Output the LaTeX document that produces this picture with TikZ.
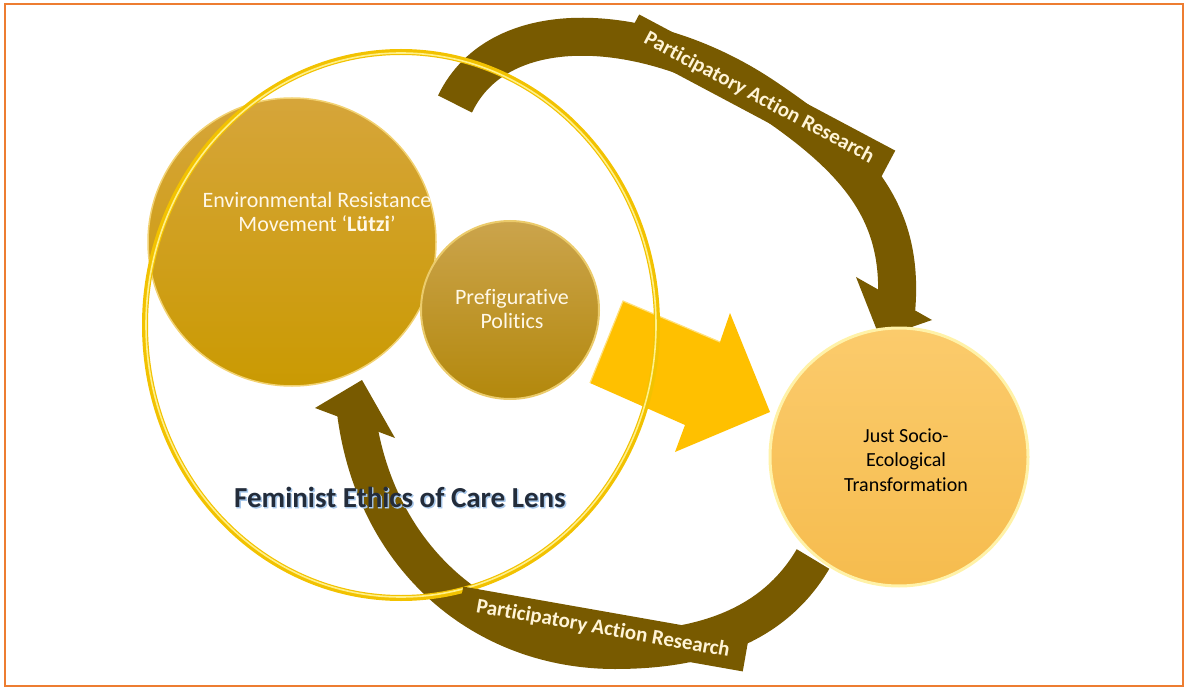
\documentclass[tikz,border=0pt]{standalone}
\usepackage{fontspec}
\setmainfont{Carlito}[Ligatures=NoCommon]
\newfontfamily\femfont{Carlito Bold}[Ligatures=NoCommon]
\newfontfamily\femhalofont{Carlito Bold}[Ligatures=NoCommon, FakeBold=2.2]
\usetikzlibrary{calc}

\definecolor{frameorange}{HTML}{ED7D31}
\definecolor{bandbrown}{HTML}{785A00}
\definecolor{tagtext}{HTML}{FFF4D6}
\definecolor{circletext}{HTML}{FFF8E8}
\definecolor{ringgold}{HTML}{F2C200}
\definecolor{ringlight}{HTML}{FFF08A}
\definecolor{flowyellow}{HTML}{FFC000}
\definecolor{flowlight}{HTML}{FFE07A}
\definecolor{femdark}{HTML}{232C3A}
\definecolor{femglow}{HTML}{A9C9EC}
\definecolor{bigtop}{HTML}{D6A53A}
\definecolor{bigbottom}{HTML}{CA9A02}
\definecolor{bigrim}{HTML}{F2D272}
\definecolor{smalltop}{HTML}{CBA44C}
\definecolor{smallbottom}{HTML}{B3880C}
\definecolor{smallrim}{HTML}{EBCB6B}
\definecolor{justtop}{HTML}{FBCB6C}
\definecolor{justbottom}{HTML}{F6BC4E}
\definecolor{justrim}{HTML}{FFF2A8}

\begin{document}
\begin{tikzpicture}[x=1pt,y=-1pt,
  band/.style={draw=bandbrown, line width=38pt},
  headfill/.style={fill=bandbrown},
  tag/.style={fill=bandbrown, text=tagtext, minimum width=290pt, minimum height=35pt,
    inner sep=0pt, font=\bfseries\fontsize{21}{24}\selectfont},
  disc/.style={circle, inner sep=0pt},
  disctext/.style={align=center, inner sep=0pt, font=\fontsize{22}{24}\selectfont},
  femstyle/.style={inner sep=0pt},
]
\useasboundingbox (0,0) rectangle (1184,687);

% frame
\draw[frameorange, line width=2pt] (5,4) rectangle (1182.5,685.5);

% anchor points of the two research loops
\coordinate (topStart) at (455,104);
\coordinate (topMid) at (760,94);
\coordinate (topEnd) at (896,312);
\coordinate (botStart) at (813,559);
\coordinate (botMid) at (615,650);
\coordinate (botEnd) at (356,412);

% upper loop: movement -> transformation
\draw[band] (topStart) .. controls (500,10) and (650,22) .. (topMid)
            .. controls (860,160) and (905,215) .. (topEnd);
\fill[headfill] (856,277) -- (880,338) -- (932,320) -- cycle;

% lower loop: transformation -> movement
\draw[band] (botStart) .. controls (780,615) and (720,650) .. (botMid)
            .. controls (485,650) and (375,560) .. (botEnd);
\fill[headfill] (315,408) -- (362,380) -- (395,438) -- cycle;

% movement circle and prefigurative politics
\node[disc, minimum size=288pt, top color=bigtop, bottom color=bigbottom,
      draw=bigrim, line width=1.5pt] (ern) at (292,242) {};
\node[disc, minimum size=178pt, top color=smalltop, bottom color=smallbottom,
      draw=smallrim, line width=2pt] (pp) at (510,310) {};

% block arrow towards the transformation
\fill[flowyellow] (623,301) -- (720,342) -- (730,313) -- (770,412)
   -- (675,452) -- (685,425) -- (590,383) -- cycle;
\draw[flowlight, line width=1.2pt, line join=round] (590,383) -- (623,301) -- (720,342);

% transformation circle
\node[disc, minimum size=258pt, top color=justtop, bottom color=justbottom,
      draw=justrim, line width=3pt] (jset) at (899,457) {};

% lens ring
\draw[ringgold, line width=6pt] (401,325) ellipse [x radius=256, y radius=273];
\draw[ringlight, line width=1.6pt] (401,325) ellipse [x radius=255, y radius=272];

% loop tags
\node[tag, rotate=-28] (tagTop) at (759,98) {Participatory Action Research};
\node[tag, rotate=-10] (tagBot) at (603,629) {Participatory Action Research};

% circle texts
\node[disctext, text=circletext] (ernText) at (317,212)
  {Environmental Resistance\\Movement ‘\textbf{Lützi}’};
\node[disctext, text=circletext] (ppText) at (512,309) {Prefigurative\\Politics};
\node[disctext, text=black, font=\fontsize{20}{24.5}\selectfont] (jsetText) at (906,460)
  {Just Socio-\\Ecological\\Transformation};

% lens caption with soft blue halo
\node[femstyle, text=femglow, xshift=1pt, yshift=-1pt] (femHalo) at (400,497)
  {\femhalofont\fontsize{29}{32}\selectfont Feminist Ethics of Care Lens};
\node[femstyle, text=femdark] (fem) at (400,497)
  {\femfont\fontsize{29}{32}\selectfont Feminist Ethics of Care Lens};

\end{tikzpicture}
\end{document}
